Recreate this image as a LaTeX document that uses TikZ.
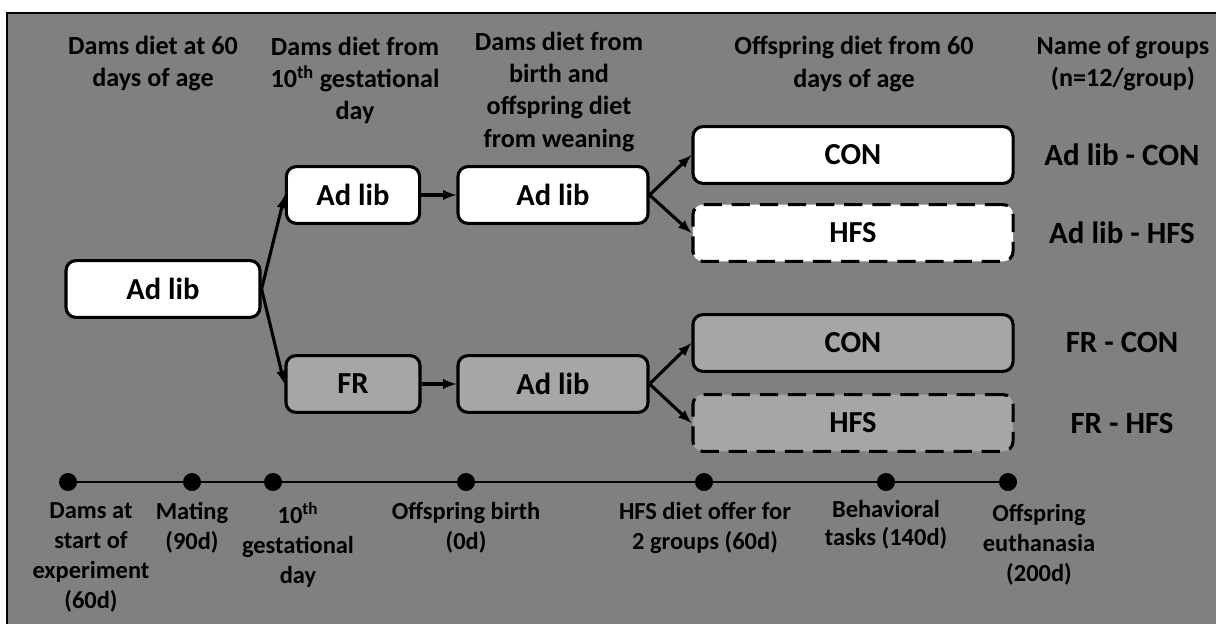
\documentclass[tikz,border=0pt]{standalone}
\usepackage{fontspec}
\setmainfont{Carlito}
\usetikzlibrary{arrows}

\definecolor{bggray}{RGB}{128,128,128}
\definecolor{boxgray}{RGB}{166,166,166}

\begin{document}
\begin{tikzpicture}[x=0.025cm, y=-0.025cm]

\tikzstyle{head} = [align=center, font=\fontsize{18.6}{22.8}\selectfont\bfseries]
\tikzstyle{box} = [rectangle, rounded corners=0.25cm, draw=black, line width=2.2pt, fill=white, minimum height=1.42cm, font=\fontsize{21.7}{26}\selectfont\bfseries]
\tikzstyle{grey} = [fill=boxgray]
\tikzstyle{dashbox} = [dash pattern=on 13pt off 7pt]
\tikzstyle{group} = [font=\fontsize{22}{26}\selectfont\bfseries]
\tikzstyle{flow} = [draw, -latex, line width=2.2pt]
\tikzstyle{dot} = [circle, fill=black, inner sep=0pt, minimum size=0.45cm]
\tikzstyle{when} = [anchor=north, align=center, inner sep=0pt, font=\fontsize{17.4}{21.3}\selectfont\bfseries]

\useasboundingbox (0, 0) rectangle (1216, 624);
\fill[white] (0, 0) rectangle (1216, 624);
\fill[bggray] (7, 13) rectangle (1216, 624);
\draw[line width=1pt] (7, 624) -- (7, 13) -- (1216, 13);

% column headings
\node[head] (hdA) at (153, 64) {Dams diet at 60\\days of age};
\node[head] (hdB) at (355, 80) {Dams diet from\\10\textsuperscript{th} gestational\\day};
\node[head] (hdC) at (559, 92) {Dams diet from\\birth and\\offspring diet\\from weaning};
\node[head] (hdD) at (854, 64) {Offspring diet from 60\\days of age};
\node[head] (hdE) at (1123, 64) {Name of groups\\(n=12/group)};

% diets
\node[box, minimum width=4.85cm] (adA) at (163, 289) {Ad lib};
\node[box, minimum width=3.33cm] (adB) at (353, 195) {Ad lib};
\node[box, grey, minimum width=3.35cm] (frB) at (353, 384) {FR};
\node[box, minimum width=4.75cm] (adC) at (553, 195) {Ad lib};
\node[box, grey, minimum width=4.75cm] (adD) at (553, 384) {Ad lib};

\node[box, minimum width=8cm] (conA) at (853, 155) {CON};
\node[box, dashbox, minimum width=8cm] (hfsA) at (853, 233) {HFS};
\node[box, grey, minimum width=8cm] (conB) at (853, 343) {CON};
\node[box, grey, dashbox, minimum width=8cm] (hfsB) at (853, 423) {HFS};

% group names
\node[group] (gpA) at (1122, 155) {Ad lib - CON};
\node[group] (gpB) at (1122, 233) {Ad lib - HFS};
\node[group] (gpC) at (1122, 342) {FR - CON};
\node[group] (gpD) at (1122, 423) {FR - HFS};

\draw[flow] (adA.east) -- (adB.west);
\draw[flow] (adA.east) -- (frB.west);
\draw[flow] (adB.east) -- (adC.west);
\draw[flow] (frB.east) -- (adD.west);
\draw[flow] (adC.east) -- (conA.west);
\draw[flow] (adC.east) -- (hfsA.west);
\draw[flow] (adD.east) -- (conB.west);
\draw[flow] (adD.east) -- (hfsB.west);

% timeline
\node[dot] (tA) at (68, 482) {};
\node[dot] (tB) at (192, 482) {};
\node[dot] (tC) at (273, 482) {};
\node[dot] (tD) at (466, 482) {};
\node[dot] (tE) at (704, 482) {};
\node[dot] (tF) at (886, 482) {};
\node[dot] (tG) at (1008, 482) {};
\draw[line width=1.6pt] (tA) -- (tB) -- (tC) -- (tD) -- (tE) -- (tF) -- (tG);

\node[when] (lbA) at (91, 502) {Dams at\\start of\\experiment\\(60d)};
\node[when] (lbB) at (192, 502) {Mating\\(90d)};
\node[when] (lbC) at (298, 502) {10\textsuperscript{th}\\gestational\\day};
\node[when] (lbD) at (466, 502) {Offspring birth\\(0d)};
\node[when] (lbE) at (705, 502) {HFS diet offer for\\2 groups (60d)};
\node[when, font=\fontsize{17.4}{20}\selectfont\bfseries] (lbF) at (886, 500) {Behavioral\\tasks (140d)};
\node[when] (lbG) at (1039, 504) {Offspring\\euthanasia\\(200d)};

\end{tikzpicture}
\end{document}
